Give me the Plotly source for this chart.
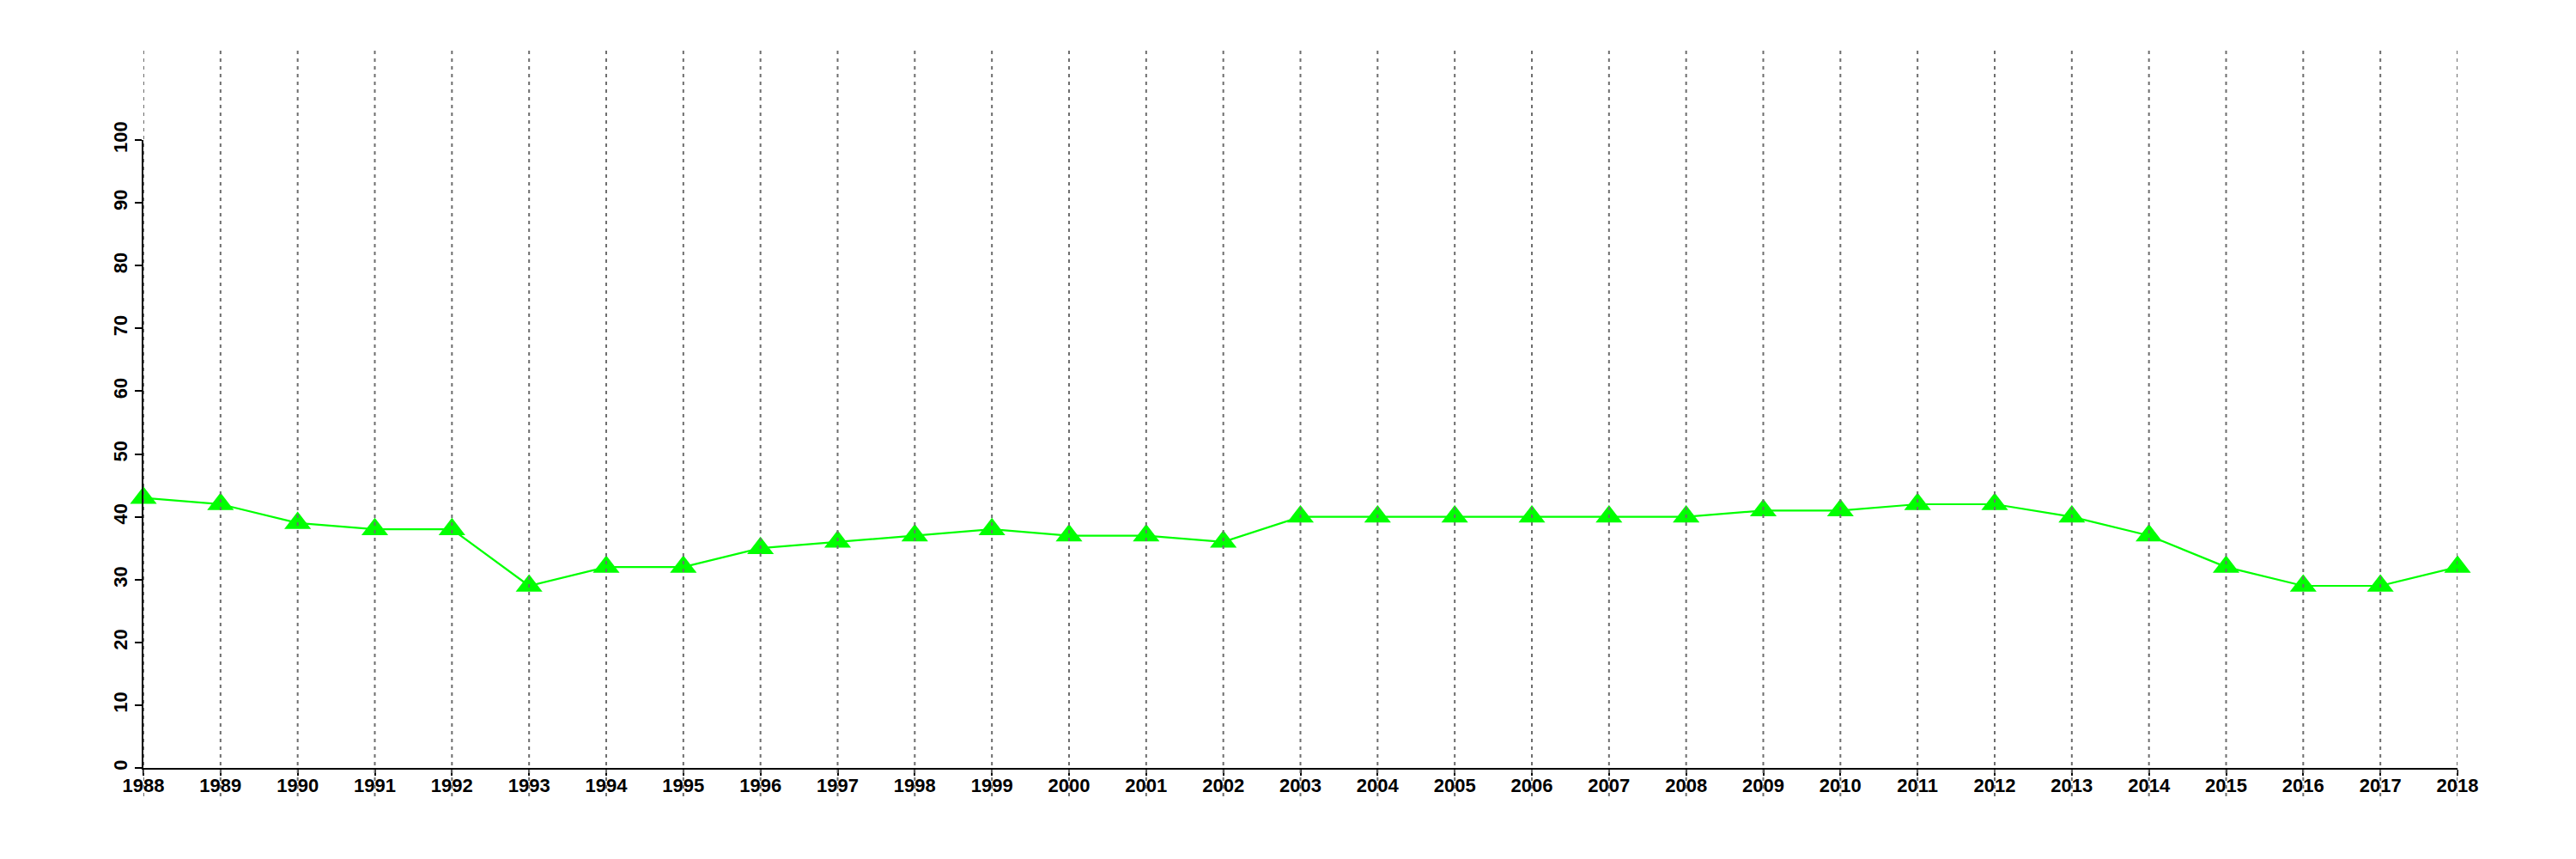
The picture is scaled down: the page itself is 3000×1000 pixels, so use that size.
import plotly.graph_objects as go

years = list(range(1988, 2019))
values = [43, 42, 39, 38, 38, 29, 32, 32, 35, 36, 37, 38, 37, 37, 36,
          40, 40, 40, 40, 40, 40, 41, 41, 42, 42, 40, 37, 32, 29, 29, 32]
y_ticks = list(range(0, 101, 10))

W, H = 3000, 1000
# the page body adds an 8px offset
m_l, m_r, m_t, m_b = 159, 146, 155, 114

fig = go.Figure()
fig.add_trace(go.Scatter(
    x=years, y=values, mode="lines+markers",
    line=dict(color="#00FF00", width=2.2),
    marker=dict(symbol="triangle-up", size=27, color="#00FF00", line=dict(width=0)),
    cliponaxis=False, showlegend=False,
))

for yr in years:
    fig.add_shape(type="line", xref="x", yref="paper", x0=yr, x1=yr,
                  y0=-0.045, y1=1.143, layer="above",
                  line=dict(color="#6e6e6e", width=2, dash="4px,5px"))

font = dict(family="Liberation Sans, Arial, sans-serif", size=22, color="black", weight="bold")

fig.update_layout(
    width=W, height=H,
    margin=dict(l=m_l, r=m_r, t=m_t, b=m_b, pad=0),
    paper_bgcolor="white", plot_bgcolor="white",
    font=font,
    xaxis=dict(range=[1988, 2018], tickvals=years, ticktext=[str(y) for y in years],
               showgrid=False, zeroline=False, showline=True, linecolor="black", linewidth=2,
               ticks="outside", ticklen=7, tickwidth=2, tickcolor="black", tickfont=font,
               ticklabelstandoff=-7),
    yaxis=dict(range=[0, 100], tickvals=y_ticks, ticktext=[str(v) for v in y_ticks],
               showgrid=False, zeroline=False, showline=True, linecolor="black", linewidth=2,
               ticks="outside", ticklen=8, tickwidth=2, tickcolor="black", tickangle=-90,
               tickfont=font),
)

fig.write_html("out.html")
